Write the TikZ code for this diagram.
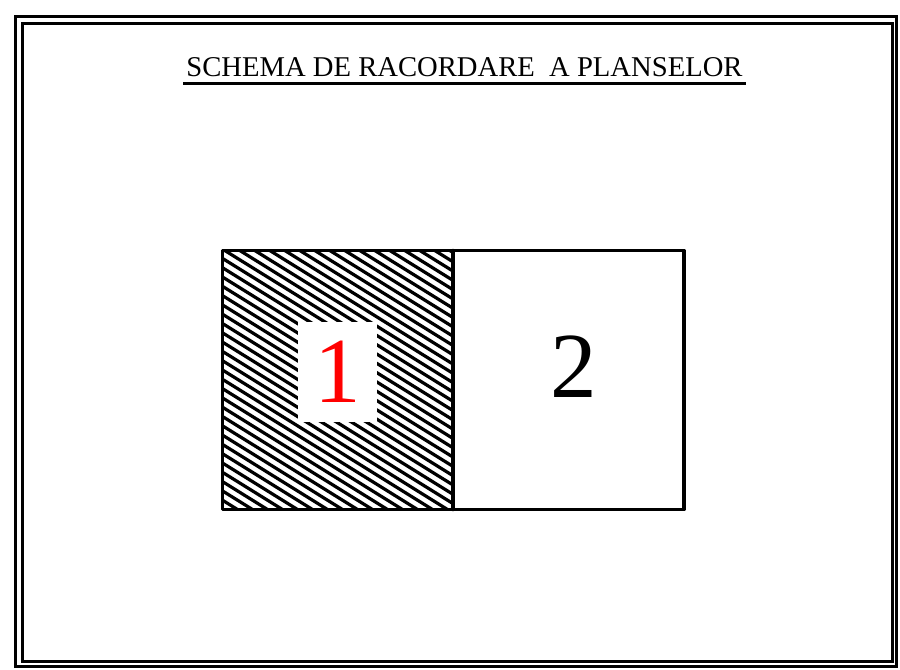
\documentclass[tikz,border=0pt]{standalone}
\usepackage{fontspec}
\setmainfont{Liberation Serif}
\usepackage{tikz}
\usetikzlibrary{calc}
\usepackage{tkz-euclide}
\usepackage{xcolor}

\begin{document}
\begin{tikzpicture}[x=1cm,y=1cm]
            \useasboundingbox (0,0) rectangle (18,13.38);
            \tkzDefPoints{0.31/0.05/F1, 17.93/13.05/F2, 0.45/0.15/G1, 17.85/12.91/G2}
            \tkzDefPoints{4.45/3.19/A, 9.06/3.19/B, 13.68/3.19/E, 13.68/8.37/H, 9.06/8.37/C, 4.45/8.37/D}
            % hatching of sheet 1
            \begin{scope}
                \clip (A) rectangle (C);
                \foreach \k in {0,...,44}
                    \draw[line width=0.064cm] ($(A)+(0,0.186*\k)$) -- ++(4.7,-2.914);
            \end{scope}
            \node[fill=white, inner sep=0pt, minimum width=1.58cm, minimum height=2cm,
                  text=red, font=\fontsize{53}{60}\selectfont] (sheet1) at (6.75,5.94) {1};
            \node[inner sep=0pt, font=\fontsize{53}{60}\selectfont] (sheet2) at (11.47,6.05) {2};
            \tkzDrawPolygon[line width=0.07cm](A,E,H,D)
            \tkzDrawSegment[line width=0.07cm](B,C)
            % double frame
            \draw[line width=0.06cm] (F1) rectangle (F2);
            \draw[line width=0.06cm] (G1) rectangle (G2);
            % title
            \node[anchor=base, inner xsep=0.06cm, inner ysep=0.126cm, text depth=0pt,
                  font=\fontsize{16.3}{20}\selectfont] (title) at (9.29,11.846)
                  {SCHEMA DE RACORDARE\ \ A PLANSELOR};
            \draw[line width=0.06cm] (title.south west) -- (title.south east);
        \end{tikzpicture}
\end{document}
